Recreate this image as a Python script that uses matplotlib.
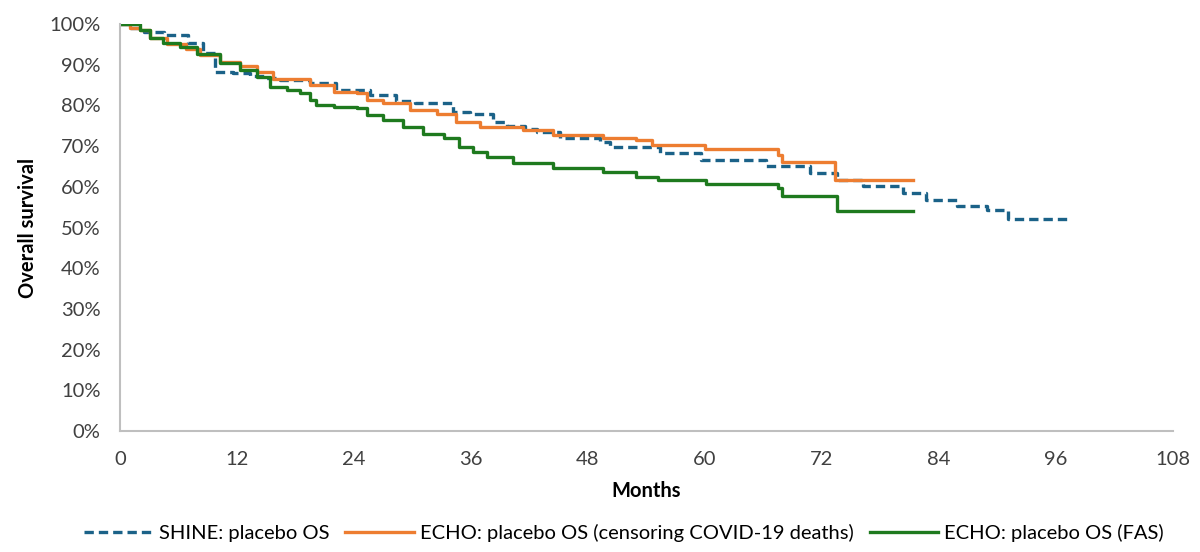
import matplotlib
matplotlib.use("Agg")
import matplotlib.pyplot as plt
from matplotlib.ticker import FuncFormatter

# SHINE placebo OS (months, survival %)
shine_t = [0, 1, 2.5, 4.5, 7.0, 8.5, 9.7, 11.6, 13.3, 15, 16.4, 19.5, 22.2, 25.6, 28.3,
           30.3, 34.2, 35.9, 38.3, 39.7, 41.5, 42.8, 45.1, 49.2, 50.3, 55.4, 59.6, 66.3,
           70.8, 73.5, 76.2, 80.3, 82.7, 85.8, 88.9, 91.1, 97.4]
shine_s = [100, 99, 98, 97.3, 95.3, 93, 88.3, 87.9, 87.3, 86.7, 86.2, 85.4, 83.8, 82.6, 81.0,
           80.5, 78.5, 78.0, 76.0, 75.0, 74.2, 73.5, 71.9, 71.0, 69.7, 68.4, 66.6, 65.1,
           63.3, 61.7, 60.2, 58.4, 56.8, 55.3, 54.3, 52.2, 52.2]

# ECHO placebo OS, censoring COVID-19 deaths
echo_cov_t = [0, 1, 2, 3.1, 4.8, 6.8, 8.2, 10.3, 12.3, 14.0, 15.7, 19.5, 21.9, 24.3, 25.3,
              27, 29.7, 32.5, 34.5, 36.9, 41.3, 44.4, 49.5, 52.9, 54.6, 60.0, 67.5, 67.9,
              73.3, 81.3]
echo_cov_s = [100, 99, 98.5, 96.5, 95, 93.8, 92.4, 90.7, 89.7, 88.3, 86.6, 85.0, 83.4, 83.0, 81.3,
              80.5, 79.0, 78.0, 76.0, 74.8, 74.0, 72.7, 72.1, 71.5, 70.3, 69.4, 67.8, 66.2,
              61.7, 61.7]

# ECHO placebo OS, full analysis set
echo_fas_t = [0, 2.1, 3.1, 4.4, 6.2, 7.9, 10.3, 12.3, 14, 15.4, 17.1, 18.5, 19.5, 20.1, 21.9,
              24.3, 25.3, 27, 29, 31.1, 33.2, 34.8, 36.2, 37.6, 40.3, 44.4, 49.5, 52.9, 55.2,
              60.1, 67.5, 67.9, 73.5, 81.3]
echo_fas_s = [100, 98.5, 96.5, 95.3, 94.4, 92.6, 90.5, 88.7, 87.1, 84.6, 83.8, 83.0, 81.3, 80.0, 79.7,
              79.3, 77.6, 76.4, 74.8, 73.1, 71.9, 69.9, 68.6, 67.4, 65.8, 64.6, 63.7, 62.5, 61.7,
              60.7, 59.6, 57.8, 54.1, 54.1]

x_ticks = list(range(0, 109, 12))
y_ticks = list(range(0, 101, 10))

plt.rcParams['font.family'] = ['Lato', 'DejaVu Sans']

fig = plt.figure(figsize=(12, 5.52), dpi=100)
ax = fig.add_axes([0.1, 0.219, 0.8775, 0.7375])

ax.step(shine_t, shine_s, where='post', color='#1b6288', lw=2.4, dashes=(2.8, 1.5),
        label='SHINE: placebo OS')
ax.step(echo_cov_t, echo_cov_s, where='post', color='#ed7d31', lw=2.4,
        label='ECHO: placebo OS (censoring COVID-19 deaths)')
ax.step(echo_fas_t, echo_fas_s, where='post', color='#1e7a1e', lw=2.4,
        label='ECHO: placebo OS (FAS)')

ax.set_xlim(0, 108)
ax.set_ylim(0, 100)
ax.set_xticks(x_ticks)
ax.set_yticks(y_ticks)
ax.yaxis.set_major_formatter(FuncFormatter(lambda v, p: f"{int(v)}%"))
ax.tick_params(length=0, labelsize=14.5, colors='#404040')
ax.tick_params(axis='x', pad=14)
ax.tick_params(axis='y', pad=14)

# Remove top and right spines
for side in ['top', 'right']:
    ax.spines[side].set_visible(False)
for side in ['left', 'bottom']:
    ax.spines[side].set_color('#bfbfbf')
    ax.spines[side].set_linewidth(1.5)

ax.set_xlabel('Months', fontsize=14.5, fontweight='bold', labelpad=10)
ax.set_ylabel('Overall survival', fontsize=14.5, fontweight='bold', labelpad=8)

fig.legend(loc='lower center', ncol=3, frameon=False, fontsize=14.5,
           bbox_to_anchor=(0.52, -0.015), handlelength=3.4, columnspacing=0.8,
           handletextpad=0.3)

fig.savefig('out.png', dpi=100)
